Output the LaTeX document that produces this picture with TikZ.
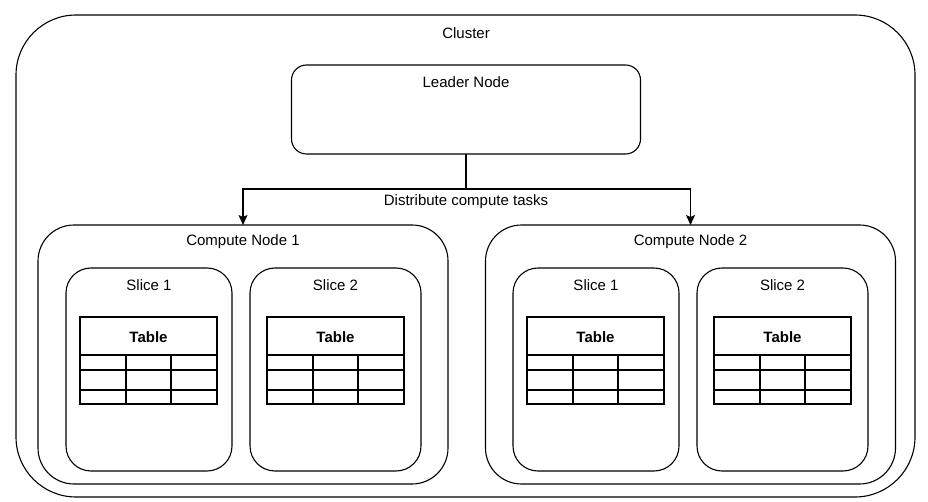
\documentclass[tikz,border=0pt]{standalone}
\usepackage{fontspec}
\setmainfont{Liberation Sans}
\usetikzlibrary{arrows.meta,calc}
\newcommand\mkslice[5]{% name, x, w, label, table x
  \node[box,rounded corners=25pt,minimum width=#3pt,minimum height=203pt] (#1) at (#2,268) {};
  \node[txt] (#1T) at ($(#1.north)+(0,17)$) {#4};
  \node[box,minimum width=137pt,minimum height=87pt] (#1tab) at (#5,317) {};
  \node[txt,font=\fontsize{15}{18}\selectfont\bfseries] (#1tabT) at (#5+68.5,337) {Table};
  \draw[tline] (#5,355) -- ++(137,0);
  \draw[tline] (#5,370) -- ++(137,0);
  \draw[tline] (#5,390) -- ++(137,0);
  \draw[tline] (#5+46,355) -- (#5+46,404);
  \draw[tline] (#5+91,355) -- (#5+91,404);
}
\begin{document}
\begin{tikzpicture}[x=1pt,y=-1pt,
  every node/.style={font=\fontsize{15}{18}\selectfont},
  box/.style={draw=black,line width=1.1pt,fill=white,anchor=north west,inner sep=0pt,outer sep=0pt},
  txt/.style={inner sep=0pt,anchor=center},
  tline/.style={draw=black,line width=1.1pt},
  arr/.style={draw=black,line width=1.1pt,-{Stealth[length=10pt,width=9pt,inset=2pt]}}
]
\useasboundingbox (0,0) rectangle (928,502);
\fill[white] (0,0) rectangle (928,502);

% Cluster
\node[box,rounded corners=60pt,minimum width=899pt,minimum height=482pt] (cluster) at (16,15) {};
\node[txt] (clusterT) at (466,33) {Cluster};

% Leader
\node[box,rounded corners=15pt,minimum width=349pt,minimum height=89pt] (leader) at (291.5,65) {};
\node[txt] (leaderT) at (466,82) {Leader Node};

% Compute nodes
\node[box,rounded corners=36pt,minimum width=410pt,minimum height=259pt] (cn1) at (38,225) {};
\node[txt] (cn1T) at (243,242) {Compute Node 1};
\node[box,rounded corners=36pt,minimum width=410pt,minimum height=259pt] (cn2) at (485.5,225) {};
\node[txt] (cn2T) at (690.5,242) {Compute Node 2};

% Connectors
\coordinate (split) at (466,189);
\draw[tline] (leader.south) -- (split);
\draw[arr] (split) -| (cn1.north);
\draw[arr] (split) -| (cn2.north);
\node[txt] (dist) at (466,202) {Distribute compute tasks};

% Slices
\mkslice{s11}{66}{166}{Slice 1}{80}
\mkslice{s12}{250}{171}{Slice 2}{267}
\mkslice{s21}{513}{166}{Slice 1}{527}
\mkslice{s22}{697}{171}{Slice 2}{714}
\end{tikzpicture}
\end{document}
